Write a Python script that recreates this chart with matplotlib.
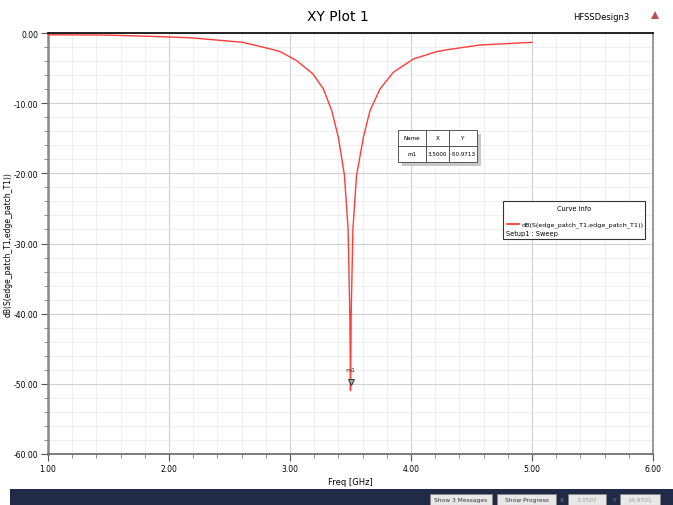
import matplotlib.pyplot as plt
from matplotlib.patches import Rectangle, Polygon
from matplotlib.ticker import MultipleLocator, FormatStrFormatter

plt.rcParams['font.family'] = ['DejaVu Sans']

# S11
freq = [1.00, 1.49, 1.84, 2.09, 2.20, 2.55, 2.61, 2.84, 2.92, 3.055, 3.19, 3.276,
        3.345, 3.40, 3.45, 3.48, 3.495, 3.50, 3.505, 3.52, 3.55, 3.606, 3.661, 3.744,
        3.854, 4.02, 4.21, 4.30, 4.57, 5.00]
s11 = [-0.25, -0.30, -0.47, -0.62, -0.71, -1.24, -1.33, -2.28, -2.66, -3.94, -5.84, -7.98,
       -11.07, -14.9, -20.3, -27.9, -40.5, -50.97, -40.5, -27.9, -20.3, -14.9, -11.07, -7.98,
       -5.6, -3.7, -2.66, -2.38, -1.71, -1.33]

marker_name = "m1"
marker_x = 3.5
marker_y = -50.9713
curve_name = "dB(S(edge_patch_T1,edge_patch_T1))"
setup_name = "Setup1 : Sweep"

W, H = 673, 506
fig = plt.figure(figsize=(W / 100, H / 100), dpi=100)
ax = fig.add_axes([48 / W, 1 - 455 / H, (653 - 48) / W, (455 - 34) / H])

ax.plot(freq, s11, color='#ff3b3b', lw=1.0, zorder=3)

ax.set_xlim(1, 6)
ax.set_ylim(-60, 0)
ax.xaxis.set_major_locator(MultipleLocator(1))
ax.xaxis.set_minor_locator(MultipleLocator(0.2))
ax.yaxis.set_major_locator(MultipleLocator(10))
ax.yaxis.set_minor_locator(MultipleLocator(2))
ax.xaxis.set_major_formatter(FormatStrFormatter('%.2f'))
ax.yaxis.set_major_formatter(FormatStrFormatter('%.2f'))
ax.tick_params(which='major', length=5, width=0.8, color='#555555', labelsize=5.5, pad=2)
ax.tick_params(which='minor', length=3, width=0.6, color='#777777')
ax.grid(which='major', color='#cfcfcf', lw=0.8)
ax.grid(which='minor', color='#ebebeb', lw=0.6)
ax.set_axisbelow(True)

ax.spines['top'].set_color('black')
ax.spines['top'].set_linewidth(1.2)
ax.spines['left'].set_color('#888888')
ax.spines['left'].set_linewidth(1.8)
ax.spines['bottom'].set_color('#666666')
ax.spines['bottom'].set_linewidth(1.2)
ax.spines['right'].set_color('#999999')
ax.spines['right'].set_linewidth(1.4)

ax.set_xlabel('Freq [GHz]', fontsize=6, labelpad=3)
ax.set_ylabel(curve_name, fontsize=5.5, labelpad=1)

# marker m1
ax.plot([marker_x], [marker_y + 1.3], marker='v', ms=4.5, mfc='#aaaaaa', mec='#333333',
        mew=0.7, zorder=4)
ax.text(marker_x, marker_y + 2.6, marker_name, fontsize=4.5, ha='center', va='bottom',
        color='#333333', zorder=4)

# marker table
tx0, ty0 = 398 / W, 1 - 163 / H
col_w = [28 / W, 23 / W, 28 / W]
row_h = 16 / H
fig.patches.append(Rectangle((tx0 + 4 / W, ty0 - 4 / H), sum(col_w), 2 * row_h,
                             transform=fig.transFigure, fc='#c8c8c8', ec='none', zorder=5))
cells = [["Name", "X", "Y"], [marker_name, "%.4f" % marker_x, "%.4f" % marker_y]]
for r in range(2):
    xx = tx0
    for c in range(3):
        yy = ty0 + (1 - r) * row_h
        fig.patches.append(Rectangle((xx, yy), col_w[c], row_h, transform=fig.transFigure,
                                     fc='white', ec='#555555', lw=0.7, zorder=6))
        fig.text(xx + col_w[c] / 2, yy + row_h / 2, cells[r][c], fontsize=4.1,
                 ha='center', va='center', zorder=7)
        xx += col_w[c]

# curve info box
bx0, by0, bw, bh = 503 / W, 1 - 240 / H, 142 / W, 38 / H
fig.patches.append(Rectangle((bx0, by0), bw, bh, transform=fig.transFigure,
                             fc='white', ec='#333333', lw=0.8, zorder=5))
fig.text(bx0 + bw / 2, 1 - 209 / H, 'Curve Info', fontsize=4.8, ha='center', va='center', zorder=6)
fig.lines.append(plt.Line2D([507 / W, 519 / W], [1 - 225 / H, 1 - 225 / H],
                            transform=fig.transFigure, color='#ff3b3b', lw=1.3, zorder=6))
fig.text(522 / W, 1 - 225 / H, curve_name, fontsize=4.6, ha='left', va='center', zorder=6)
fig.text(506 / W, 1 - 234 / H, setup_name, fontsize=4.8, ha='left', va='center', zorder=6)

# title and design name
fig.text(338 / W, 1 - 17 / H, 'XY Plot 1', fontsize=10, ha='center', va='center')
fig.text(601 / W, 1 - 17 / H, 'HFSSDesign3', fontsize=6, ha='center', va='center')
fig.patches.append(Polygon([[651 / W, 1 - 20 / H], [659 / W, 1 - 20 / H], [655 / W, 1 - 12 / H]],
                           closed=True, transform=fig.transFigure, fc='#c0504d', ec='none'))

# status bar at the bottom
fig.patches.append(Rectangle((10 / W, 0), 663 / W, 16 / H, transform=fig.transFigure,
                             fc='#1f2b47', ec='none'))
buttons = [(430, 492, 'Show 3 Messages'), (497, 556, 'Show Progress'),
           (568, 606, '3.3507'), (620, 660, '14.9701')]
for x0, x1, lbl in buttons:
    fig.patches.append(Rectangle((x0 / W, 0), (x1 - x0) / W, 11 / H, transform=fig.transFigure,
                                 fc='#e8e8e8', ec='#888888', lw=0.5))
    fig.text((x0 + x1) / 2 / W, 5 / H, lbl, fontsize=4.3, ha='center', va='center',
             color='#333333' if x0 < 560 else '#999999')
fig.text(562 / W, 5 / H, 'X', fontsize=4.3, color='#888888', ha='center', va='center')
fig.text(614 / W, 5 / H, 'Y', fontsize=4.3, color='#888888', ha='center', va='center')

fig.savefig('out.png', dpi=100)
